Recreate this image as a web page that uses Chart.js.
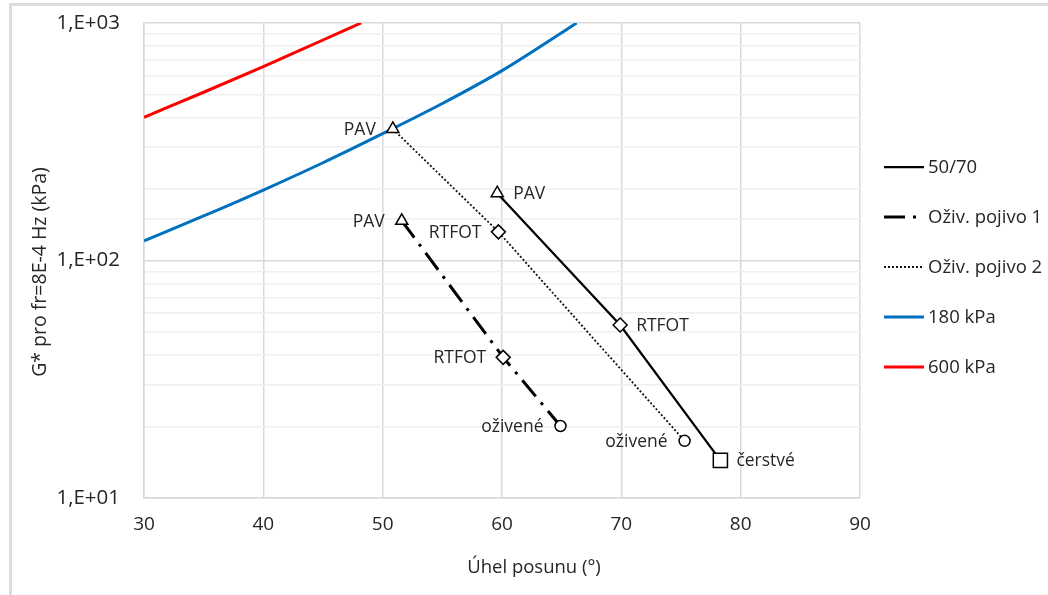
<!DOCTYPE html>
<html>
<head>
<meta charset="utf-8">
<title>G* vs phase angle</title>
<script src="https://cdn.jsdelivr.net/npm/chart.js@4.4.1/dist/chart.umd.min.js"></script>
<style>
  html, body { margin: 0; padding: 0; background: #fff; overflow: hidden; }
  #frame {
    position: absolute; left: 9px; top: 3px; width: 1100px; height: 700px;
    border-top: 3px solid #dcdcdc; border-left: 3px solid #dcdcdc;
  }
  #wrap { position: absolute; left: 0; top: 0; width: 1048px; height: 595px; }
</style>
</head>
<body>
<div id="frame"></div>
<div id="wrap"><canvas id="chart"></canvas></div>
<script>
// axis ranges
const xTicks = [30, 40, 50, 60, 70, 80, 90];
const yDecades = [10, 100, 1000];

// 50/70 binder: PAV, RTFOT, fresh
const b5070Angle = [59.6, 69.9, 78.3];
const b5070G = [192, 53.5, 14.4];
const b5070Names = ['PAV', 'RTFOT', 'čerstvé'];

// rejuvenated binder 1
const rej1Angle = [51.6, 60.1, 64.9];
const rej1G = [147, 39.1, 20.1];
const rej1Names = ['PAV', 'RTFOT', 'oživené'];

// rejuvenated binder 2
const rej2Angle = [50.85, 59.7, 75.3];
const rej2G = [358, 132, 17.4];
const rej2Names = ['PAV', 'RTFOT', 'oživené'];

// limit curves
const lim180Angle = [30, 35, 40, 45, 50, 55, 60, 65, 66.25];
const lim180G = [121, 154, 198, 258, 342, 458, 630, 910, 1000];
const lim600Angle = [30, 35, 40, 45, 48.2];
const lim600G = [401, 511, 655, 848, 1000];

const FONT = '"Open Sans", Lato, sans-serif';
const TEXT = '#262626';
const GRID = '#d9d9d9';
const GRID_MINOR = '#efefef';

const pts = (xs, ys) => xs.map((x, i) => ({ x: x, y: ys[i] }));
const isDecade = v => Math.abs(Math.log10(v) - Math.round(Math.log10(v))) < 1e-6;

function binderSet(label, xs, ys, names, styles, radii, dash, width, color, side) {
    return {
        label: label,
        data: pts(xs, ys),
        showLine: true,
        borderColor: color,
        borderWidth: width,
        borderDash: dash,
        pointStyle: styles,
        pointRadius: radii,
        pointHoverRadius: radii,
        pointBackgroundColor: '#fff',
        pointBorderColor: '#000',
        pointBorderWidth: 1.5,
        names: names,
        nameSide: side
    };
}

function limitSet(label, xs, ys, color) {
    return {
        label: label,
        data: pts(xs, ys),
        showLine: true,
        borderColor: color,
        borderWidth: 3,
        pointRadius: 0,
        pointHoverRadius: 0,
        cubicInterpolationMode: 'monotone'
    };
}

// point names next to markers
const pointNames = {
    id: 'pointNames',
    afterDatasetsDraw(chart) {
        const ctx = chart.ctx;
        ctx.save();
        ctx.font = '17.5px ' + FONT;
        ctx.fillStyle = TEXT;
        ctx.textBaseline = 'middle';
        chart.data.datasets.forEach((ds, i) => {
            if (!ds.names) return;
            chart.getDatasetMeta(i).data.forEach((p, j) => {
                if (ds.nameSide === 'right') {
                    ctx.textAlign = 'left';
                    ctx.fillText(ds.names[j], p.x + 16, p.y + 1);
                } else {
                    ctx.textAlign = 'right';
                    ctx.fillText(ds.names[j], p.x - 17, p.y + 1);
                }
            });
        });
        ctx.restore();
    }
};

// legend on the right and the axis titles
const sideLegend = {
    id: 'sideLegend',
    afterDraw(chart) {
        const ctx = chart.ctx;
        const area = chart.chartArea;
        ctx.save();
        const x0 = area.right + 24, x1 = area.right + 64;
        chart.data.datasets.forEach((ds, i) => {
            const y = 167 + i * 50;
            ctx.beginPath();
            ctx.strokeStyle = ds.borderColor;
            ctx.lineWidth = ds.borderWidth;
            ctx.setLineDash(ds.borderDash || []);
            ctx.moveTo(x0, y);
            ctx.lineTo(x1, y);
            ctx.stroke();
            ctx.setLineDash([]);
            ctx.font = '18.5px ' + FONT;
            ctx.fillStyle = TEXT;
            ctx.textAlign = 'left';
            ctx.textBaseline = 'middle';
            ctx.fillText(ds.label, x1 + 4, y + 1);
        });

        ctx.fillStyle = TEXT;
        ctx.textAlign = 'center';
        ctx.textBaseline = 'middle';
        ctx.font = '18.5px ' + FONT;
        ctx.fillText('Úhel posunu (°)', 534, 568);

        ctx.font = '19.5px ' + FONT;
        ctx.translate(40, 272);
        ctx.rotate(-Math.PI / 2);
        ctx.fillText('G* pro fr=8E-4 Hz (kPa)', 0, 0);
        ctx.restore();
    }
};

function draw() {
    new Chart(document.getElementById('chart'), {
        type: 'scatter',
        data: {
            datasets: [
                binderSet('50/70', b5070Angle, b5070G, b5070Names,
                    ['triangle', 'rectRot', 'rect'], [7, 7, 10], [], 2.25, '#000', 'right'),
                binderSet('Oživ. pojivo 1', rej1Angle, rej1G, rej1Names,
                    ['triangle', 'rectRot', 'circle'], [7, 7, 5.5], [21, 8, 3, 8], 3, '#000', 'left'),
                binderSet('Oživ. pojivo 2', rej2Angle, rej2G, rej2Names,
                    ['triangle', 'rectRot', 'circle'], [7, 7, 5.5], [2, 2], 1.8, '#111', 'left'),
                limitSet('180 kPa', lim180Angle, lim180G, '#0070c0'),
                limitSet('600 kPa', lim600Angle, lim600G, '#ff0000')
            ]
        },
        options: {
            responsive: true,
            maintainAspectRatio: false,
            animation: false,
            events: [],
            layout: { padding: { left: 0, right: 188, top: 23, bottom: 0 } },
            plugins: { legend: { display: false }, tooltip: { enabled: false } },
            scales: {
                x: {
                    type: 'linear',
                    min: xTicks[0],
                    max: xTicks[xTicks.length - 1],
                    afterBuildTicks: s => { s.ticks = xTicks.map(v => ({ value: v })); },
                    ticks: { padding: 15, color: TEXT, font: { family: FONT, size: 19 } },
                    grid: { color: GRID, lineWidth: 1.5, drawTicks: false },
                    border: { color: GRID, width: 1.5 },
                    afterFit: s => { s.height = 97; }
                },
                y: {
                    type: 'logarithmic',
                    min: yDecades[0],
                    max: yDecades[yDecades.length - 1],
                    ticks: {
                        autoSkip: false,
                        padding: 24,
                        color: TEXT,
                        font: { family: FONT, size: 20.5 },
                        callback: v => isDecade(v)
                            ? '1,E+' + String(Math.round(Math.log10(v))).padStart(2, '0')
                            : ''
                    },
                    grid: {
                        color: c => isDecade(c.tick.value) ? GRID : GRID_MINOR,
                        lineWidth: 1.5,
                        drawTicks: false
                    },
                    border: { color: GRID, width: 1.5 },
                    afterFit: s => { s.width = 144; s.paddingTop = 0; s.paddingBottom = 0; }
                }
            }
        },
        plugins: [pointNames, sideLegend]
    });
}

document.fonts.load('18px "Open Sans"').then(draw, draw);
</script>
</body>
</html>
